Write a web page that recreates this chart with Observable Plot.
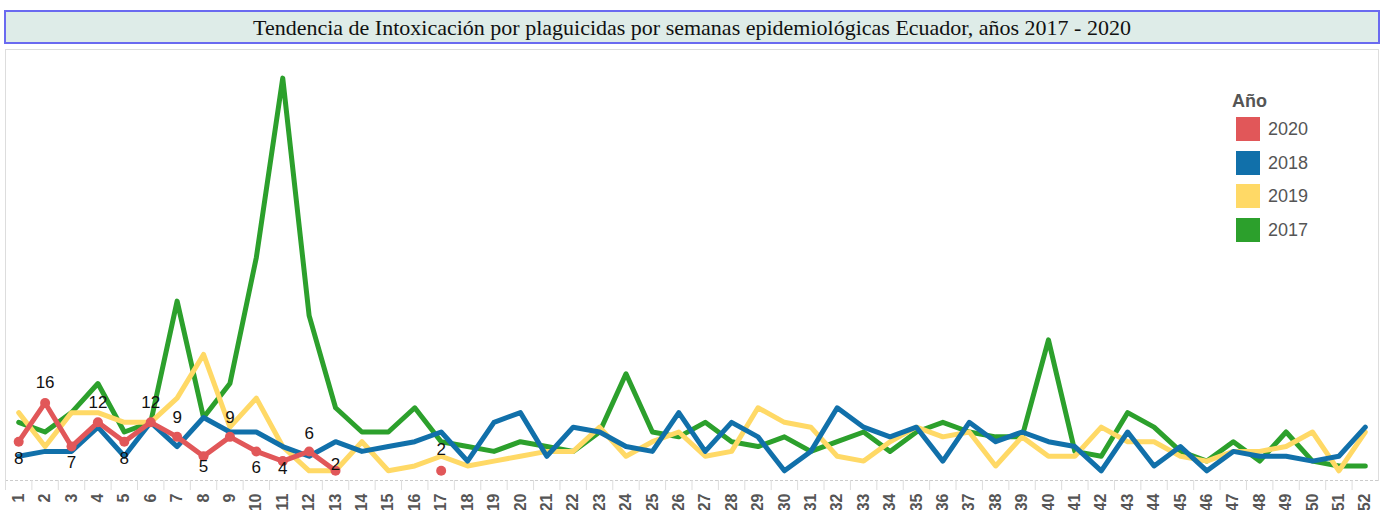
<!DOCTYPE html>
<html>
<head>
<meta charset="utf-8">
<script src="https://cdn.jsdelivr.net/npm/d3@7"></script>
<script src="https://cdn.jsdelivr.net/npm/@observablehq/plot@0.6"></script>
<style>
  body { margin: 0; width: 1398px; height: 510px; overflow: hidden; background: #fff; position: relative; font-family: Arial, "Liberation Sans", sans-serif; }
  #title { position: absolute; left: 4px; top: 10px; width: 1372px; height: 30px; background: #deece8; border: 2px solid #6a6af0; font-family: "Liberation Serif", "Times New Roman", serif; font-size: 22px; line-height: 31px; text-align: center; color: #111; }
  #chart { position: absolute; left: 0; top: 45px; }
  #legend .head { position: absolute; left: 1232px; top: 91px; font-size: 18px; line-height: 20px; font-weight: bold; color: #555; }
  #legend .sw { position: absolute; left: 1236px; width: 24px; height: 24px; }
  #legend .lab { position: absolute; left: 1268px; font-size: 18px; line-height: 24px; color: #555; }
</style>
</head>
<body>
<div id="title">Tendencia de Intoxicación por plaguicidas por semanas epidemiológicas Ecuador, años 2017 - 2020</div>
<div id="chart"></div>
<div id="legend"></div>
<script>
// ---- data ----
const weeks = [1,2,3,4,5,6,7,8,9,10,11,12,13,14,15,16,17,18,19,20,21,22,23,24,25,26,
               27,28,29,30,31,32,33,34,35,36,37,38,39,40,41,42,43,44,45,46,47,48,49,50,51,52];
const years = ["2020", "2018", "2019", "2017"];
const colors = ["#e15759", "#1170aa", "#ffd966", "#2ca02c"];

const v2017 = [12,10,14,20,10,12,37,13,20,46,83,34,15,10,10,15,8,7,6,8,7,6,10,22,10,9,
               12,8,7,9,6,8,10,6,10,12,10,9,9,29,6,5,14,11,6,4,8,4,10,4,3,3];
const v2018 = [5,6,6,11,5,12,7,13,10,10,7,5,8,6,7,8,10,4,12,14,5,11,10,7,6,14,
               6,12,9,2,6,15,11,9,11,4,12,8,10,8,7,2,10,3,7,2,6,5,5,4,5,11];
const v2019 = [14,7,14,14,12,12,17,26,11,17,7,2,2,8,2,3,5,3,4,5,6,6,11,5,8,10,
               5,6,15,12,11,5,4,8,11,9,10,3,9,5,5,11,8,8,5,4,6,6,7,10,2,10];
const v2020 = [8,16,7,12,8,12,9,5,9,6,4,6,2,null,null,null,2];

// label placement for 2020 value labels (vertical offset in px)
const labelOffset = {1:17, 2:-20, 3:16, 4:-20, 5:17, 6:-20, 7:-19, 8:10, 9:-19, 10:16, 11:7, 12:-18, 13:-6, 17:-21};

// ---- build table (drawing order: 2017, 2019, 2018, 2020) ----
const toRows = (arr, year) => arr.map((v, i) => ({week: weeks[i], value: v, year}));
const rows2020 = toRows(v2020, "2020");
const rows = [
  ...toRows(v2017, "2017"),
  ...toRows(v2019, "2019"),
  ...toRows(v2018, "2018"),
  ...rows2020
];
const pts2020 = rows2020.filter(d => d.value != null);

const labelGroups = d3.groups(pts2020, d => labelOffset[d.week]);
const labelMarks = labelGroups.map(([dy, data]) =>
  Plot.text(data, {x: "week", y: "value", text: d => String(d.value), dy, fontSize: 17, fontWeight: "normal", fill: "#111", fontFamily: "Arial"})
);

const chart = Plot.plot({
  width: 1398,
  height: 465,
  marginTop: 4,
  marginBottom: 30,
  marginLeft: 5,
  marginRight: 20,
  x: {type: "band", domain: weeks, padding: 0, round: false, label: null},
  y: {domain: [0, 88.9], axis: null},
  color: {domain: years, range: colors},
  style: {fontFamily: "Arial, 'Liberation Sans', sans-serif", fontSize: "16px", fontWeight: "bold", overflow: "visible", background: "transparent"},
  marks: [
    Plot.frame({anchor: "top", stroke: "#dddddd"}),
    Plot.frame({anchor: "left", stroke: "#dddddd"}),
    Plot.frame({anchor: "right", stroke: "#dddddd"}),
    Plot.ruleY([0], {stroke: "#cccccc", strokeDasharray: "3,2"}),
    Plot.axisX({tickSize: 10, tickFormat: () => "", dx: -13.2, stroke: "#dddddd", strokeOpacity: 1}),
    Plot.axisX({tickSize: 0, tickPadding: 13, tickRotate: -90, fontSize: 16, fontWeight: "bold", fill: "#555", label: null}),
    Plot.line(rows, {x: "week", y: "value", z: "year", stroke: "year", strokeWidth: 5, strokeLinejoin: "round", strokeLinecap: "round"}),
    Plot.dot(pts2020, {x: "week", y: "value", fill: "year", r: 5}),
    ...labelMarks
  ]
});
document.getElementById("chart").appendChild(chart);

// ---- legend ----
const legend = document.getElementById("legend");
const head = document.createElement("div");
head.className = "head";
head.textContent = "Año";
legend.appendChild(head);
years.forEach((y, i) => {
  const top = 117 + i * 33.7;
  const sw = document.createElement("div");
  sw.className = "sw";
  sw.style.top = top + "px";
  sw.style.background = colors[i];
  legend.appendChild(sw);
  const lab = document.createElement("div");
  lab.className = "lab";
  lab.style.top = top + "px";
  lab.textContent = y;
  legend.appendChild(lab);
});
</script>
</body>
</html>
